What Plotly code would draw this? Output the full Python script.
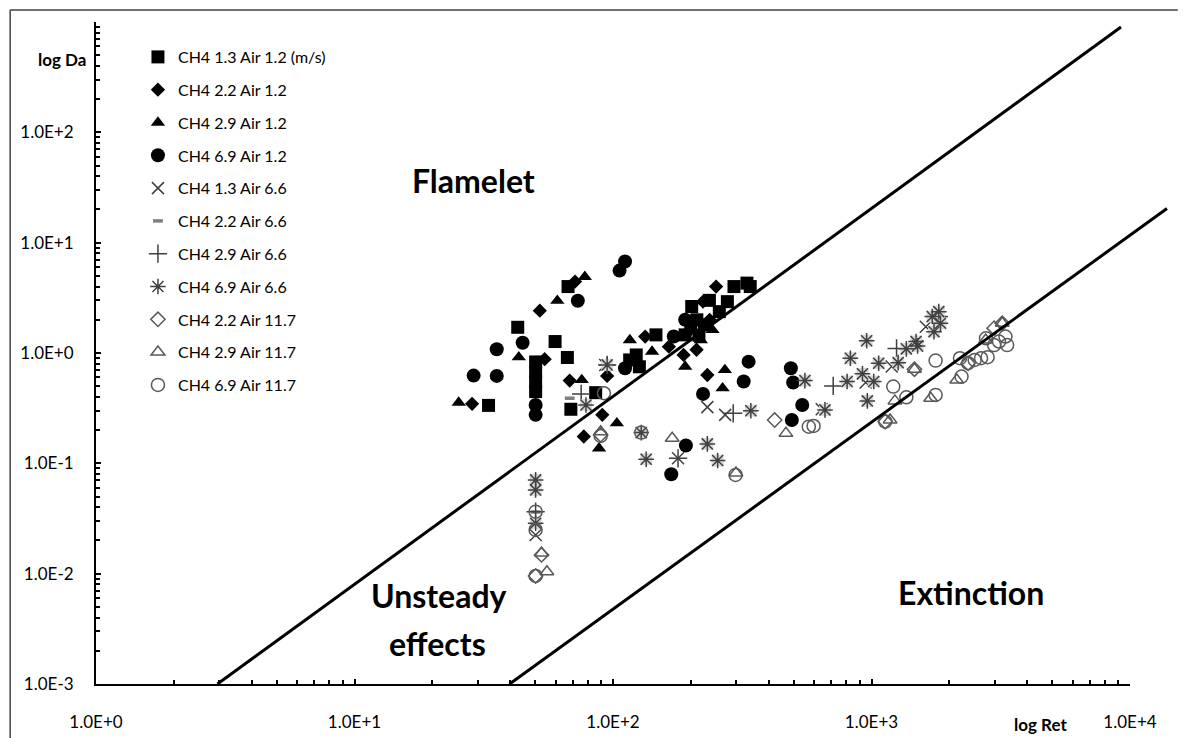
import plotly.graph_objects as go

# ---------------- data ----------------
S1_X = [67.0, 42.8, 59.7, 66.6, 50.2, 50.2, 50.2, 50.2, 33.0, 85.7, 68.7, 123, 126.5, 116, 146.6,
        201.6, 211, 257.8, 277, 293.8, 329.7, 339.5, 226, 190, 236, 200, 215]
S1_Y = [4.0, 1.71, 1.27, 0.91, 0.83, 0.675, 0.547, 0.447, 0.335, 0.437, 0.309, 0.96, 0.75, 0.865, 1.46,
        2.64, 2.0, 2.37, 2.92, 4.0, 4.3, 4.0, 1.8, 1.46, 3.0, 1.75, 1.45]

S2_X = [71.3, 52.1, 54.4, 68.0, 28.5, 90.9, 77.1, 133.2, 164.5, 187.5, 210.5, 223, 250.5, 231.7, 94.9, 198.6, 236.5]
S2_Y = [4.44, 2.42, 0.88, 0.562, 0.346, 0.275, 0.175, 1.41, 1.14, 0.96, 1.07, 2.92, 4.0, 0.632, 0.62, 1.62, 2.0]

S3_X = [77.8, 60.9, 43.2, 75.7, 25.3, 103.5, 88.3, 116.2, 141.6, 190.2, 270.9, 265.4, 218.6, 242.6]
S3_Y = [4.9, 2.98, 0.917, 0.570, 0.355, 0.231, 0.137, 1.31, 1.03, 0.753, 0.703, 0.480, 1.31, 1.62]

S4_X = [111.3, 106, 73.1, 44.7, 35.5, 28.9, 35.5, 50.2, 50.2, 111.3, 171.8, 334.6, 320.3, 223, 191.4,
        168, 487.5, 497.7, 539.6, 491.8, 190.2]
S4_Y = [6.75, 5.58, 2.98, 1.24, 1.08, 0.624, 0.62, 0.338, 0.275, 0.728, 1.41, 0.835, 0.551, 0.426, 0.145,
        0.0797, 0.728, 0.54, 0.338, 0.247, 2.0]

S5_X = [231.7, 271.6, 642, 949, 1197, 50.2, 178.5, 1622, 93.3]
S5_Y = [0.323, 0.275, 0.309, 0.54, 0.753, 0.0224, 0.111, 1.73, 0.78]

S6_X = [68.0, 50.2]
S6_Y = [0.389, 0.0362]

S7_X = [75.3, 291.8, 711, 1250, 50.2, 178.5, 1821, 94.9]
S7_Y = [0.426, 0.284, 0.503, 1.10, 0.0365, 0.111, 2.14, 0.78]

S8_X = [94.9, 78.6, 128.6, 231.7, 134.4, 254, 50.2, 50.2, 50.2, 341.4, 552.5, 660.7, 804.7, 828.5,
        957.6, 922.5, 1020, 963.5, 1066, 1268, 1364, 1487, 1508, 1718, 1821, 1849, 1745]
S8_Y = [0.78, 0.338, 0.19, 0.15, 0.109, 0.106, 0.0708, 0.0574, 0.0286, 0.30, 0.562, 0.305, 0.551, 0.897,
        1.29, 0.647, 0.551, 0.368, 0.808, 0.818, 1.09, 1.27, 1.16, 2.14, 2.37, 1.86, 1.56]

S9_X = [422, 89.6, 52.9, 50.2, 3205, 1466, 2364, 1130, 2981]
S9_Y = [0.247, 0.181, 0.0148, 0.00953, 1.86, 0.713, 0.808, 0.239, 1.68]

S10_X = [169.4, 466.7, 89.6, 52.9, 55.5, 1232, 1694, 2136, 1180, 1466, 3205, 2765, 299]
S10_Y = [0.169, 0.187, 0.193, 0.0154, 0.0104, 0.368, 0.389, 0.570, 0.247, 0.713, 1.86, 1.31, 0.0818]

S11_X = [92.2, 89.6, 128.6, 298, 572, 597, 1214, 1364, 1770, 1770, 1130, 2199, 2230, 2364, 2506, 2653,
         2813, 2772, 3113, 3297, 3348, 50.2, 50.2, 50.2, 2981]
S11_Y = [0.432, 0.177, 0.19, 0.0785, 0.215, 0.218, 0.496, 0.397, 0.853, 0.417, 0.239, 0.897, 0.611, 0.808,
         0.865, 0.897, 0.917, 1.36, 1.27, 1.41, 1.18, 0.0249, 0.00953, 0.0365, 1.18]

SERIES_NAMES = ["CH4 1.3 Air 1.2 (m/s)", "CH4 2.2 Air 1.2", "CH4 2.9 Air 1.2", "CH4 6.9 Air 1.2",
                "CH4 1.3 Air 6.6", "CH4 2.2 Air 6.6", "CH4 2.9 Air 6.6", "CH4 6.9 Air 6.6",
                "CH4 2.2 Air 11.7", "CH4 2.9 Air 11.7", "CH4 6.9 Air 11.7"]

# regime boundary lines (end points)
LINE1_X = [2.95, 9230]
LINE1_Y = [0.001, 900]
LINE2_X = [39.8, 13900]
LINE2_Y = [0.001, 20.4]

X_TICKS = [1, 10, 100, 1000, 10000]
X_TICKTEXT = ["1.0E+0", "1.0E+1", "1.0E+2", "1.0E+3", "1.0E+4"]
Y_TICKS = [0.001, 0.01, 0.1, 1, 10, 100]
Y_TICKTEXT = ["1.0E-3", "1.0E-2", "1.0E-1", "1.0E+0", "1.0E+1", "1.0E+2"]

# ---------------- layout geometry ----------------
W, H = 1197, 738
ML, MR, MT, MB = 96, 0, 22, 54
PW, PH = W - ML - MR, H - MT - MB
X_DEC = 265.0
XMAX_LOG = PW / X_DEC


def px(xp):
    return (xp - ML) / PW


def py(yp):
    return (H - MB - yp) / PH


FONT = "Lato, Carlito, Calibri, sans-serif"
GRAY = "#595959"
DGRAY = "#404040"

fig = go.Figure()

styles = [
    dict(symbol="square", size=13, color="black"),
    dict(symbol="diamond", size=11, color="black"),
    dict(symbol="triangle-up", size=12.5, color="black"),
    dict(symbol="circle", size=14, color="black"),
    dict(symbol="x-thin-open", size=12, color=DGRAY, line=dict(color=DGRAY, width=1.5)),
    dict(symbol="line-ew-open", size=7, color="#7f7f7f", line=dict(color="#7f7f7f", width=3.5)),
    dict(symbol="cross-thin-open", size=13, color=DGRAY, line=dict(color=DGRAY, width=1.5)),
    dict(symbol="asterisk-open", size=13, color=DGRAY, line=dict(color=DGRAY, width=1.5)),
    dict(symbol="diamond-open", size=11, color=GRAY, line=dict(color=GRAY, width=1.5)),
    dict(symbol="triangle-up-open", size=12, color=GRAY, line=dict(color=GRAY, width=1.5)),
    dict(symbol="circle-open", size=13, color=GRAY, line=dict(color=GRAY, width=1.5)),
]
data = [(S1_X, S1_Y), (S2_X, S2_Y), (S3_X, S3_Y), (S4_X, S4_Y), (S5_X, S5_Y), (S6_X, S6_Y),
        (S7_X, S7_Y), (S8_X, S8_Y), (S9_X, S9_Y), (S10_X, S10_Y), (S11_X, S11_Y)]

for i, ((xs, ys), name, st) in enumerate(zip(data, SERIES_NAMES, styles)):
    if i == 7:
        # light grey background behind the asterisk markers
        fig.add_trace(go.Scatter(x=xs, y=ys, mode="markers", showlegend=False, legendgroup=name,
                                 marker=dict(symbol="square", size=12, color="#d9d9d9"),
                                 hoverinfo="skip"))
    fig.add_trace(go.Scatter(x=xs, y=ys, mode="markers", name=name, legendgroup=name, marker=st))

for lx, ly in [(LINE1_X, LINE1_Y), (LINE2_X, LINE2_Y)]:
    fig.add_trace(go.Scatter(x=lx, y=ly, mode="lines", line=dict(color="black", width=3),
                             showlegend=False, xaxis="x2", yaxis="y2", hoverinfo="skip"))

minor_x = [k * 10 ** d for d in range(0, 4) for k in range(2, 10)]
minor_y = [k * 10.0 ** d for d in range(-3, 3) for k in range(2, 10)] + [1000]

tickfont = dict(family=FONT, size=17, color="black")

fig.update_layout(
    width=W, height=H,
    margin=dict(l=ML, r=MR, t=MT, b=MB, pad=0),
    paper_bgcolor="white", plot_bgcolor="rgba(0,0,0,0)",
    font=dict(family=FONT, color="black"),
    xaxis=dict(type="log", range=[0, 4], domain=[0, 4 / XMAX_LOG], anchor="y",
               showline=True, linecolor="black", linewidth=2, mirror=False,
               ticks="inside", ticklen=5, tickwidth=1.5, tickcolor="black",
               tickvals=X_TICKS, ticktext=X_TICKTEXT, tickfont=tickfont, ticklabelstandoff=22,
               showgrid=False, zeroline=False,
               minor=dict(tickvals=minor_x, ticks="inside", ticklen=4, tickwidth=1.5,
                          tickcolor="black", showgrid=False)),
    yaxis=dict(type="log", range=[-3, 3], domain=[0, 1], anchor="x",
               showline=True, linecolor="black", linewidth=2, mirror=False,
               ticks="inside", ticklen=5, tickwidth=1.5, tickcolor="black",
               tickvals=Y_TICKS, ticktext=Y_TICKTEXT, tickfont=tickfont, ticklabelstandoff=17,
               showgrid=False, zeroline=False,
               minor=dict(tickvals=minor_y, ticks="inside", ticklen=4, tickwidth=1.5,
                          tickcolor="black", showgrid=False)),
    xaxis2=dict(type="log", range=[0, XMAX_LOG], domain=[0, 1], anchor="y2", visible=False,
                showgrid=False, zeroline=False),
    yaxis2=dict(type="log", range=[-3, 3], domain=[0, 1], anchor="x2", visible=False,
                showgrid=False, zeroline=False),
    legend=dict(x=px(139), y=py(40), xanchor="left", yanchor="top",
                font=dict(family=FONT, size=16, color="black"),
                bgcolor="rgba(0,0,0,0)", borderwidth=0, tracegroupgap=9,
                itemsizing="trace"),
    showlegend=True,
)

annos = [
    ("<b>log Da</b>", 88, 60, "right", 17),
    ("<b>Flamelet</b>", 483, 180, "center", 32),
    ("<b>Unsteady</b>", 448, 595, "center", 32),
    ("<b>effects</b>", 446, 643, "center", 32),
    ("<b>Extinction</b>", 993, 592, "center", 32),
    ("<b>log Ret</b>", 1093, 724, "right", 17),
]
for text, x, y, xa, size in annos:
    fig.add_annotation(text=text, x=px(x), y=py(y), xref="paper", yref="paper",
                       xanchor=xa, yanchor="middle", showarrow=False,
                       font=dict(family=FONT, size=size, color="black"))

# chart-area border (left and top edges visible in the picture)
fig.add_shape(type="line", xref="paper", yref="paper", x0=px(8), x1=px(8), y0=py(745), y1=py(10),
              line=dict(color=DGRAY, width=1.5))
fig.add_shape(type="line", xref="paper", yref="paper", x0=px(8), x1=px(1205), y0=py(10), y1=py(10),
              line=dict(color=DGRAY, width=1.5))

fig.write_html("out.html")
